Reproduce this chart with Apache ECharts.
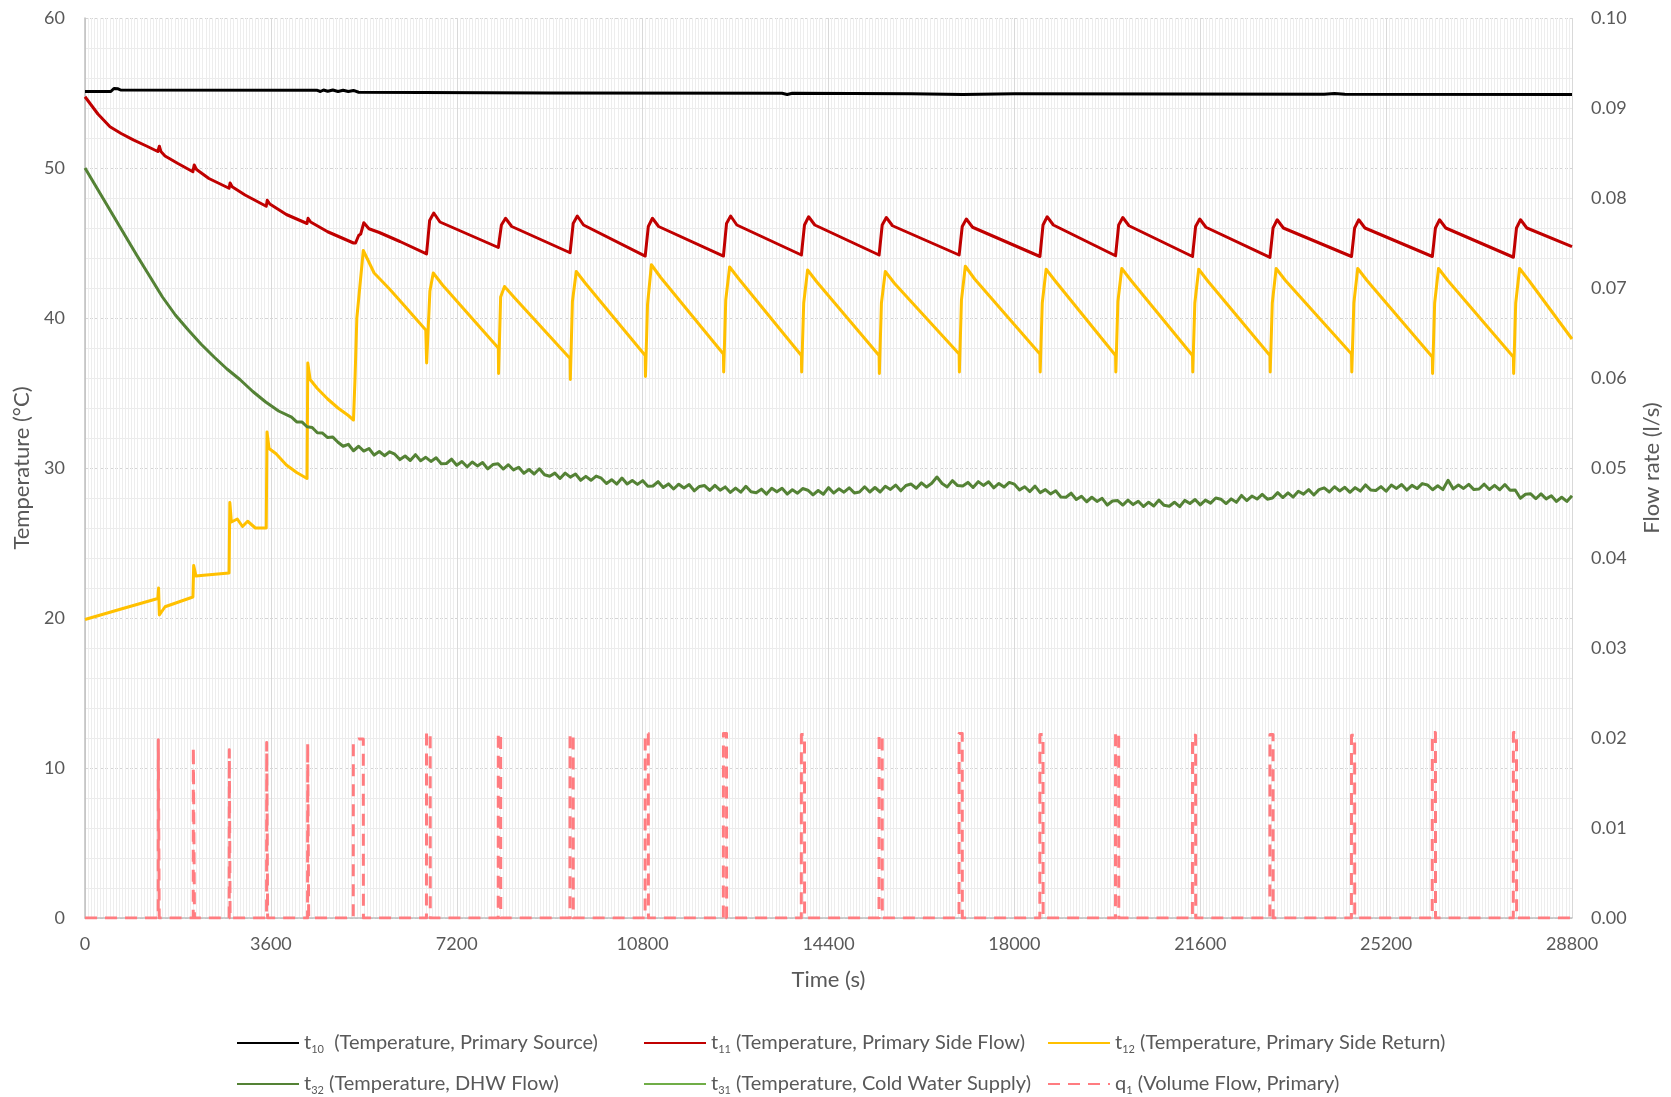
<!DOCTYPE html>
<html>
<head>
<meta charset="utf-8">
<script src="https://cdn.jsdelivr.net/npm/echarts@6/dist/echarts.min.js"></script>
<style>
  html, body { margin: 0; padding: 0; background: #ffffff; }
  #chart { width: 1671px; height: 1097px; }
</style>
</head>
<body>
<div id="chart"></div>
<script>
// ---- Measured series: [time (s), value] ----

// t10: primary source temperature (°C)
const t10Points = [
  [0, 55.1], [500, 55.1], [560, 55.3], [640, 55.28], [690, 55.2], [4500, 55.18],
  [4560, 55.1], [4620, 55.2], [4700, 55.12], [4800, 55.2], [4900, 55.1], [5000, 55.18],
  [5100, 55.1], [5200, 55.17], [5300, 55.05], [9000, 55.0], [13500, 54.98], [13600, 54.9],
  [13700, 54.98], [16000, 54.95], [17000, 54.9], [18000, 54.95], [24000, 54.92],
  [24200, 54.97], [24400, 54.92], [28800, 54.9]
];

// t11: primary side flow temperature (°C)
const t11Points = [
  [0, 54.75], [250, 53.6], [484, 52.75], [700, 52.3], [936, 51.87], [1200, 51.45],
  [1410, 51.1], [1440, 51.45], [1470, 51.1], [1550, 50.8], [1800, 50.3], [2090, 49.75],
  [2115, 50.2], [2160, 49.9], [2400, 49.3], [2790, 48.65], [2810, 49.0], [2850, 48.75],
  [3100, 48.2], [3510, 47.45], [3530, 47.85], [3580, 47.6], [3900, 46.9], [4300, 46.3],
  [4320, 46.65], [4370, 46.4], [4700, 45.75], [5000, 45.3], [5200, 45.0], [5240, 45.0],
  [5300, 45.5], [5340, 45.6], [5400, 46.35], [5500, 45.95], [5700, 45.7], [6100, 45.1],
  [6615, 44.27], [6675, 46.5], [6755, 47.0], [6875, 46.4],
  [8005, 44.7], [8065, 46.2], [8145, 46.65], [8265, 46.1],
  [9395, 44.35], [9455, 46.3], [9535, 46.8], [9655, 46.2],
  [10850, 44.13], [10910, 46.1], [10990, 46.65], [11110, 46.1],
  [12365, 44.13], [12425, 46.3], [12505, 46.8], [12625, 46.2],
  [13875, 44.2], [13935, 46.2], [14015, 46.75], [14135, 46.2],
  [15380, 44.2], [15440, 46.2], [15520, 46.7], [15640, 46.15],
  [16930, 44.2], [16990, 46.1], [17070, 46.6], [17190, 46.05],
  [18495, 44.1], [18555, 46.2], [18635, 46.75], [18755, 46.2],
  [19960, 44.15], [20020, 46.2], [20100, 46.7], [20220, 46.15],
  [21450, 44.1], [21510, 46.1], [21590, 46.6], [21710, 46.05],
  [22950, 44.04], [23010, 46.0], [23090, 46.55], [23210, 46.0],
  [24530, 44.1], [24590, 46.0], [24670, 46.55], [24790, 46.0],
  [26095, 44.1], [26155, 46.0], [26235, 46.55], [26355, 46.0],
  [27665, 44.05], [27725, 46.0], [27805, 46.55], [27925, 46.0],
  [28800, 44.76]
];

// t12: primary side return temperature (°C)
const t12Points = [
  [0, 19.9], [700, 20.6], [1410, 21.3], [1425, 22.0], [1440, 20.2], [1550, 20.75],
  [2090, 21.4], [2105, 23.5], [2150, 22.8], [2300, 22.85], [2790, 23.0], [2805, 27.7],
  [2835, 26.4], [2950, 26.6], [3050, 26.1], [3150, 26.45], [3300, 26.0], [3510, 26.0],
  [3525, 32.4], [3565, 31.3], [3700, 30.95], [3900, 30.2], [4100, 29.7], [4300, 29.3],
  [4315, 37.0], [4360, 35.9], [4500, 35.3], [4700, 34.6], [4900, 34.0], [5100, 33.5],
  [5200, 33.2], [5230, 36.0], [5265, 40.0], [5390, 44.5], [5600, 43.0], [5907, 41.9],
  [6165, 40.9], [6600, 39.2],
  [6617, 37.0], [6680, 41.8], [6745, 43.0], [6925, 42.2], [8005, 38.0],
  [8010, 36.3], [8050, 41.4], [8125, 42.1], [8305, 41.4], [9395, 37.3],
  [9400, 35.9], [9440, 41.1], [9515, 43.1], [9695, 42.3], [10850, 37.5],
  [10855, 36.1], [10895, 40.9], [10970, 43.55], [11150, 42.7], [12365, 37.6],
  [12370, 36.4], [12410, 41.2], [12485, 43.4], [12665, 42.6], [13875, 37.5],
  [13880, 36.4], [13920, 41.0], [13995, 43.2], [14175, 42.4], [15380, 37.5],
  [15385, 36.3], [15425, 41.0], [15500, 43.1], [15680, 42.3], [16930, 37.6],
  [16935, 36.4], [16975, 41.2], [17050, 43.45], [17230, 42.6], [18495, 37.6],
  [18500, 36.4], [18540, 41.0], [18615, 43.25], [18795, 42.45], [19960, 37.5],
  [19965, 36.4], [20005, 41.1], [20080, 43.3], [20260, 42.5], [21450, 37.5],
  [21455, 36.4], [21495, 41.0], [21570, 43.25], [21750, 42.45], [22950, 37.5],
  [22955, 36.4], [22995, 41.0], [23070, 43.3], [23250, 42.5], [24530, 37.6],
  [24535, 36.4], [24575, 41.0], [24650, 43.3], [24830, 42.5], [26095, 37.4],
  [26100, 36.3], [26140, 41.0], [26215, 43.3], [26395, 42.5], [27665, 37.4],
  [27670, 36.3], [27710, 41.0], [27785, 43.3], [27965, 42.5], [28800, 38.6]
];

// t32: DHW flow temperature (°C) — warm-up part, then logged every 100 s from 4000 s
const t32Start = [
  [0, 50.0], [250, 48.55], [500, 47.1], [750, 45.65], [1000, 44.2], [1250, 42.8],
  [1500, 41.4], [1750, 40.2], [2000, 39.2], [2250, 38.25], [2500, 37.4], [2750, 36.6],
  [3000, 35.9], [3250, 35.1], [3500, 34.4], [3750, 33.8]
];
const t32LogStart = 4000;
const t32LogStep = 100;
const t32Log = [
  33.39, 33.07, 33.07, 32.75, 32.70, 32.35, 32.33, 32.03, 32.06, 31.72,
  31.45, 31.58, 31.15, 31.45, 31.13, 31.30, 30.86, 31.10, 30.82, 31.08,
  30.92, 30.56, 30.80, 30.50, 30.89, 30.48, 30.71, 30.44, 30.68, 30.29,
  30.30, 30.59, 30.19, 30.43, 30.08, 30.40, 30.14, 30.37, 29.94, 30.23,
  30.28, 29.93, 30.22, 29.87, 30.05, 29.65, 29.90, 29.60, 29.95, 29.55,
  29.45, 29.66, 29.30, 29.66, 29.39, 29.60, 29.18, 29.44, 29.18, 29.46,
  29.32, 28.97, 29.22, 28.93, 29.33, 28.93, 29.17, 28.91, 29.16, 28.78,
  28.80, 29.09, 28.70, 28.94, 28.60, 28.92, 28.67, 28.90, 28.48, 28.77,
  28.83, 28.51, 28.84, 28.52, 28.74, 28.37, 28.66, 28.39, 28.78, 28.41,
  28.35, 28.59, 28.26, 28.65, 28.41, 28.65, 28.26, 28.55, 28.32, 28.63,
  28.52, 28.21, 28.50, 28.25, 28.69, 28.33, 28.61, 28.39, 28.68, 28.34,
  28.40, 28.75, 28.40, 28.70, 28.40, 28.78, 28.57, 28.86, 28.48, 28.83,
  28.93, 28.65, 29.01, 28.73, 28.98, 29.40, 28.97, 28.74, 29.16, 28.83,
  28.80, 29.04, 28.70, 29.09, 28.84, 29.08, 28.68, 28.97, 28.73, 29.04,
  28.92, 28.54, 28.75, 28.43, 28.79, 28.36, 28.56, 28.27, 28.48, 28.07,
  28.05, 28.32, 27.90, 28.12, 27.75, 28.05, 27.77, 27.98, 27.53, 27.80,
  27.83, 27.53, 27.86, 27.56, 27.78, 27.43, 27.72, 27.47, 27.86, 27.51,
  27.45, 27.72, 27.42, 27.84, 27.63, 27.90, 27.54, 27.86, 27.66, 28.00,
  27.92, 27.63, 27.94, 27.71, 28.17, 27.83, 28.13, 27.93, 28.24, 27.92,
  28.00, 28.36, 28.03, 28.34, 28.06, 28.45, 28.26, 28.56, 28.20, 28.56,
  28.68, 28.40, 28.75, 28.47, 28.71, 28.38, 28.69, 28.46, 28.87, 28.54,
  28.50, 28.76, 28.45, 28.86, 28.64, 28.90, 28.53, 28.84, 28.63, 28.96,
  28.87, 28.55, 28.82, 28.56, 29.18, 28.61, 28.87, 28.64, 28.91, 28.56,
  28.60, 28.92, 28.57, 28.84, 28.55, 28.90, 28.52, 28.53, 27.98, 28.25,
  28.28, 27.95, 28.27, 27.94, 28.15, 27.77, 28.05, 27.77, 28.15
];

// t31: cold water supply temperature (°C) — no readings in this run
const t31Points = [];

// q1: primary volume flow (l/s), draw-off pulses
const q1Points = [
  [0, 0], [1418, 0], [1420, 0.0198], [1435, 0.0198], [1437, 0],
  [2096, 0], [2098, 0.0190], [2118, 0.0192], [2120, 0],
  [2793, 0], [2795, 0.0187], [2808, 0.0187], [2810, 0],
  [3517, 0], [3519, 0.0195], [3535, 0.0195], [3537, 0],
  [4311, 0], [4313, 0.0194], [4330, 0.0194], [4332, 0],
  [5195, 0], [5197, 0.0196], [5300, 0.0199], [5390, 0.0199], [5392, 0],
  [6613, 0], [6615, 0.0206], [6685, 0.0206], [6687, 0],
  [8003, 0], [8005, 0.0205], [8050, 0.0205], [8052, 0],
  [9393, 0], [9395, 0.0204], [9455, 0.0204], [9457, 0],
  [10848, 0], [10850, 0.0205], [10910, 0.0205], [10912, 0],
  [12363, 0], [12365, 0.0205], [12425, 0.0205], [12427, 0],
  [13873, 0], [13875, 0.0204], [13935, 0.0204], [13937, 0],
  [15378, 0], [15380, 0.0203], [15440, 0.0203], [15442, 0],
  [16928, 0], [16930, 0.0205], [16990, 0.0205], [16992, 0],
  [18493, 0], [18495, 0.0204], [18555, 0.0204], [18557, 0],
  [19958, 0], [19960, 0.0206], [20020, 0.0206], [20022, 0],
  [21448, 0], [21450, 0.0203], [21510, 0.0203], [21512, 0],
  [22948, 0], [22950, 0.0204], [23010, 0.0204], [23012, 0],
  [24528, 0], [24530, 0.0203], [24590, 0.0203], [24592, 0],
  [26093, 0], [26095, 0.0206], [26155, 0.0206], [26157, 0],
  [27663, 0], [27665, 0.0206], [27725, 0.0206], [27727, 0],
  [28800, 0]
];

// Axis ranges and tick steps
const timeRange = [0, 28800, 3600];
const tempRange = [0, 60, 10];
const flowRange = [0, 0.1, 0.01];

// Legend entries: symbol, subscript, description
const legendEntries = [
  { name: 't10', base: 't', sub: '10', desc: '  (Temperature, Primary Source)' },
  { name: 't11', base: 't', sub: '11', desc: ' (Temperature, Primary Side Flow)' },
  { name: 't12', base: 't', sub: '12', desc: ' (Temperature, Primary Side Return)' },
  { name: 't32', base: 't', sub: '32', desc: ' (Temperature, DHW Flow)' },
  { name: 't31', base: 't', sub: '31', desc: ' (Temperature, Cold Water Supply)' },
  { name: 'q1',  base: 'q', sub: '1',  desc: ' (Volume Flow, Primary)' }
];

// ---- Build chart ----
const t32Points = t32Start.concat(t32Log.map((v, i) => [t32LogStart + i * t32LogStep, v]));

const FONT = 'Lato';
const TEXT = '#595959';

function lineSeries(name, data, color, yIndex, dashed) {
  return {
    name, type: 'line', data, yAxisIndex: yIndex,
    symbol: 'none', showSymbol: false, silent: true,
    animation: false,
    lineStyle: { color, width: 3, type: dashed ? [12, 8] : 'solid', cap: 'butt', join: 'round' },
    itemStyle: { color }
  };
}

const legendPos = [
  { left: 236, top: 1033 }, { left: 643, top: 1033 }, { left: 1047, top: 1033 },
  { left: 236, top: 1074 }, { left: 643, top: 1074 }, { left: 1047, top: 1074 }
];

const legendByName = {};
legendEntries.forEach(e => { legendByName[e.name] = e; });

const legends = legendEntries.map((e, i) => ({
  data: [e.name],
  left: legendPos[i].left, top: legendPos[i].top,
  orient: 'horizontal',
  padding: 0,
  itemWidth: 62, itemHeight: 14,
  selectedMode: false,
  itemStyle: { opacity: 0 },
  formatter: name => {
    const it = legendByName[name];
    return '{b|' + it.base + '}{s|' + it.sub + '}{d|' + it.desc + '}';
  },
  textStyle: {
    color: TEXT, fontFamily: FONT, fontSize: 20,
    rich: {
      b: { fontFamily: FONT, fontSize: 20, color: TEXT, lineHeight: 23 },
      s: { fontFamily: FONT, fontSize: 11, color: TEXT, lineHeight: 23, verticalAlign: 'bottom', padding: [9, 0, 0, 0] },
      d: { fontFamily: FONT, fontSize: 20, color: TEXT, lineHeight: 23 }
    }
  }
}));

const option = {
  backgroundColor: '#ffffff',
  animation: false,
  textStyle: { fontFamily: FONT },
  grid: { left: 85, right: 99, top: 18, bottom: 179 },
  legend: legends,
  xAxis: {
    type: 'value',
    min: timeRange[0], max: timeRange[1], interval: timeRange[2],
    name: 'Time (s)', nameLocation: 'middle', nameGap: 51,
    nameTextStyle: { color: TEXT, fontFamily: FONT, fontSize: 22 },
    axisLine: { show: true, lineStyle: { color: '#bfbfbf', width: 1.5 } },
    axisTick: { show: false },
    axisLabel: { color: TEXT, fontFamily: FONT, fontSize: 18, margin: 17, formatter: v => String(v) },
    splitLine: { show: true, lineStyle: { color: '#d9d9d9', width: 1 } },
    minorTick: { show: false, splitNumber: 60 },
    minorSplitLine: { show: true, lineStyle: { color: '#ededed', width: 1 } }
  },
  yAxis: [
    {
      type: 'value',
      min: tempRange[0], max: tempRange[1], interval: tempRange[2],
      name: 'Temperature (°C)', nameLocation: 'middle', nameGap: 50, nameRotate: 90,
      nameTextStyle: { color: TEXT, fontFamily: FONT, fontSize: 22 },
      axisLine: { show: true, lineStyle: { color: '#bfbfbf', width: 1.5 } },
      axisTick: { show: false },
      axisLabel: { color: TEXT, fontFamily: FONT, fontSize: 18, margin: 20 },
      splitLine: { show: true, lineStyle: { color: '#d4d4d4', width: 1, type: [3, 2] } },
      minorTick: { show: false, splitNumber: 5 },
      minorSplitLine: { show: true, lineStyle: { color: '#ebebeb', width: 1 } }
    },
    {
      type: 'value',
      min: flowRange[0], max: flowRange[1], interval: flowRange[2],
      name: 'Flow rate (l/s)', nameLocation: 'middle', nameGap: 69, nameRotate: 90,
      nameTextStyle: { color: TEXT, fontFamily: FONT, fontSize: 22 },
      axisLine: { show: false },
      axisTick: { show: false },
      axisLabel: { color: TEXT, fontFamily: FONT, fontSize: 18, margin: 19, formatter: v => v.toFixed(2) },
      splitLine: { show: false }
    }
  ],
  series: [
    lineSeries('t10', t10Points, '#000000', 0, false),
    lineSeries('t11', t11Points, '#c00000', 0, false),
    lineSeries('t12', t12Points, '#ffc000', 0, false),
    lineSeries('t32', t32Points, '#548235', 0, false),
    lineSeries('t31', t31Points, '#70ad47', 0, false),
    lineSeries('q1', q1Points, '#ff7c80', 1, true)
  ]
};

const chart = echarts.init(document.getElementById('chart'), null, { renderer: 'canvas' });
chart.setOption(option);
</script>
</body>
</html>
